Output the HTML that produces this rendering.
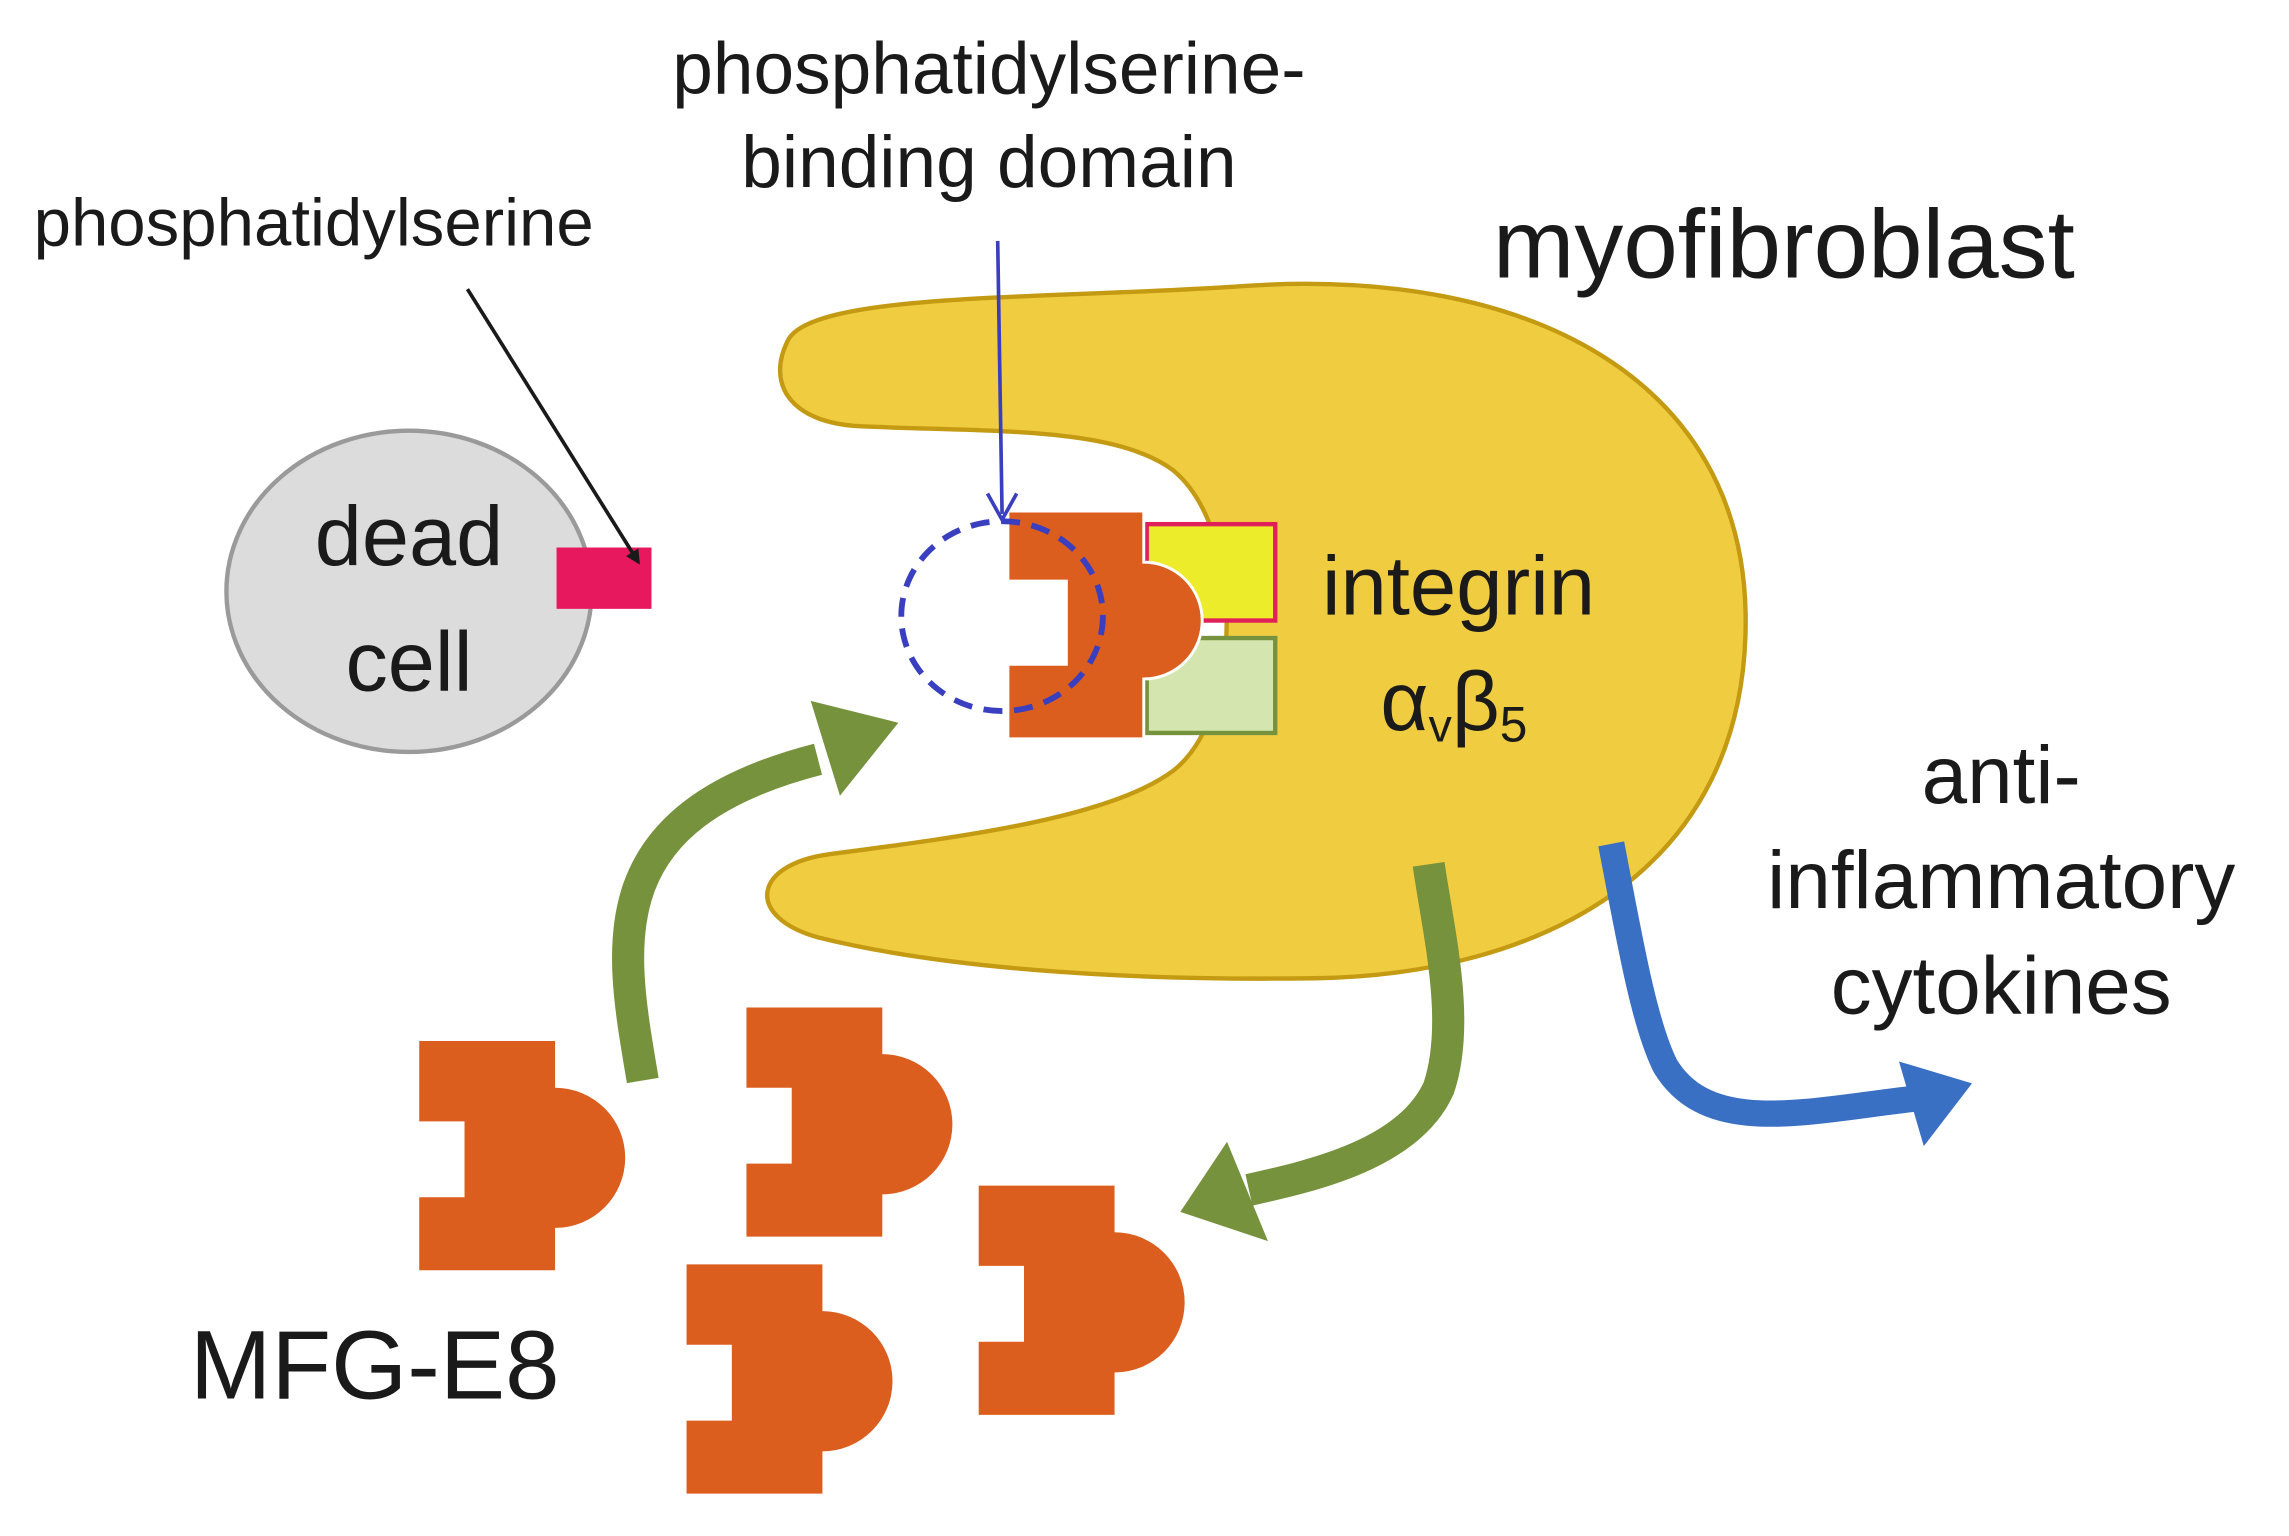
<!DOCTYPE html>
<html><head><meta charset="utf-8"><style>
html,body{margin:0;padding:0;background:#fff}
svg{display:block}
text{font-family:"Liberation Sans",sans-serif;fill:#1a1a1a}
</style></head><body>
<svg width="2289" height="1536" viewBox="0 0 1567 1052" preserveAspectRatio="none">
<defs>
<path id="pc" d="M0,0 H93 V32 A48,48 0 0 1 93,128 V157 H0 V107 H31 V55 H0 Z" fill="#dc5e1e"/>
<marker id="ab" markerWidth="10" markerHeight="10" refX="8" refY="5" orient="auto" markerUnits="userSpaceOnUse"><path d="M0,0 L10,5 L0,10 Z" fill="#1a1a1a"/></marker>
</defs>
<path d="M540,232 C560,200 720,205 850,196 C1050,182 1192,262 1195,420 C1198,600 1050,668 900,670 C760,672 640,662 560,642 C510,628 515,592 568,585 C660,573 760,560 803,528 C852,490 852,362 803,322 C762,292 680,296 590,292 C540,290 524,262 540,232 Z" fill="#f0cd40" stroke="#c49a12" stroke-width="3"/>
<rect x="785" y="359" width="88" height="66" fill="#ecec2a" stroke="#e0205a" stroke-width="3"/>
<rect x="785" y="437" width="88" height="65" fill="#d5e5b0" stroke="#76923c" stroke-width="3"/>
<path d="M690,350 H783 V385 A40,40 0 0 1 783,465 V506 H690 V455 H730 V398 H690 Z" fill="#dc5e1e" stroke="#fff" stroke-width="2"/>
<ellipse cx="686" cy="422" rx="69" ry="65" fill="none" stroke="#3a3fbf" stroke-width="4" stroke-dasharray="13,8"/>
<line x1="683" y1="165" x2="686" y2="352" stroke="#3a3fbf" stroke-width="2.5"/>
<path d="M676,338 L686,356 L696,338" fill="none" stroke="#3a3fbf" stroke-width="2.5"/>
<ellipse cx="280" cy="405" rx="125" ry="110" fill="#dcdcdc" stroke="#9a9a9a" stroke-width="3"/>
<rect x="381" y="375" width="65" height="42" fill="#e8185f"/>
<line x1="320" y1="198" x2="437" y2="385" stroke="#1a1a1a" stroke-width="2.5" marker-end="url(#ab)"/>
<use href="#pc" x="287" y="713"/>
<use href="#pc" x="511" y="690"/>
<use href="#pc" x="470" y="866"/>
<use href="#pc" x="670" y="812"/>
<path d="M440,740 C425,650 405,560 560,520" fill="none" stroke="#76923c" stroke-width="22"/>
<path d="M555,480 L615,495 L575,545 Z" fill="#76923c"/>
<path d="M978,592 C985,640 1000,700 985,745 C965,790 900,805 855,815" fill="none" stroke="#76923c" stroke-width="22"/>
<path d="M840,782 L808,830 L868,850 Z" fill="#76923c"/>
<path d="M1103,578 C1115,640 1125,700 1140,730 C1170,780 1240,760 1315,752" fill="none" stroke="#3a70c4" stroke-width="18"/>
<path d="M1300,727 L1350,742 L1317,785 Z" fill="#3a70c4"/>
<text x="677" y="64" font-size="50" text-anchor="middle">phosphatidylserine-</text>
<text x="677" y="128" font-size="50" text-anchor="middle">binding domain</text>
<text x="23" y="168" font-size="46">phosphatidylserine</text>
<text x="1022" y="190" font-size="67">myofibroblast</text>
<text x="280" y="387" font-size="58" text-anchor="middle">dead</text>
<text x="280" y="473" font-size="58" text-anchor="middle">cell</text>
<text x="905" y="421" font-size="57">integrin</text>
<text x="945" y="500" font-size="57">α<tspan font-size="32" dy="8">v</tspan><tspan dy="-8">β</tspan><tspan font-size="34" dy="8">5</tspan></text>
<text x="1370" y="550" font-size="56" text-anchor="middle">anti-</text>
<text x="1370" y="622" font-size="56" text-anchor="middle">inflammatory</text>
<text x="1370" y="694" font-size="56" text-anchor="middle">cytokines</text>
<text x="130" y="958" font-size="67">MFG-E8</text>
</svg>
</body></html>
